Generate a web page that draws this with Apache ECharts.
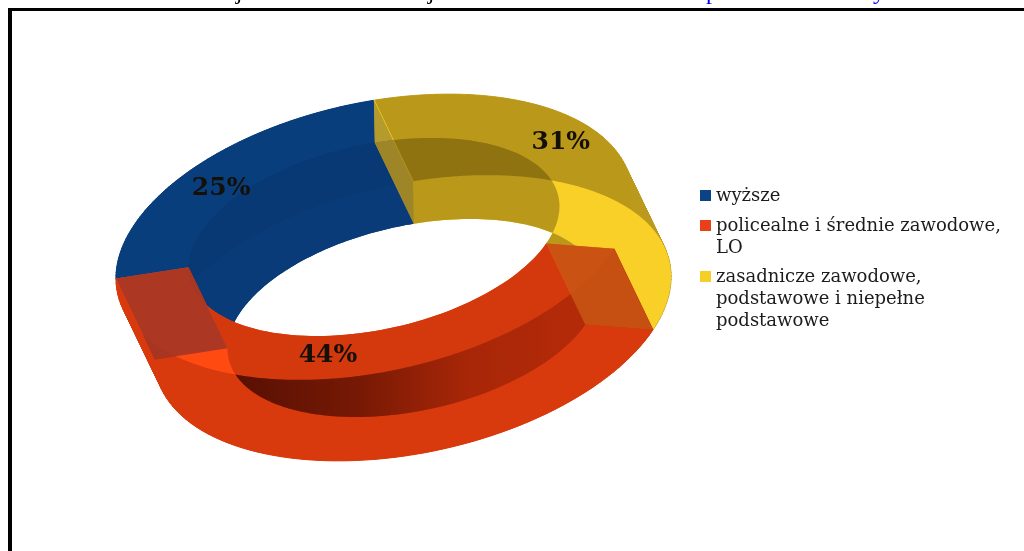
<!DOCTYPE html>
<html><head><meta charset="utf-8">
<style>html,body{margin:0;padding:0;background:#fff}#c{width:1024px;height:551px}</style>
<script src="https://cdn.jsdelivr.net/npm/echarts@6/dist/echarts.min.js"></script>
</head><body><div id="c"></div>
<script>
var categories = ['wyższe', 'policealne i średnie zawodowe,\nLO', 'zasadnicze zawodowe,\npodstawowe i niepełne\npodstawowe'];
var values = [25, 44, 31];
var percentLabels = ['25%', '44%', '31%'];
var baseColors = ['#0a4080', '#ff4a12', '#f8d028'];
var wallColors = ['#0a4080', '#d83a0e', '#bb9a1e'];
var legendColors = ['#0c4384', '#e8401a', '#f5cf25'];

var legendTops = [180, 210, 261];
var labelRadius = [0.81, 0.81, 0.88];
var labelShift = [[-5,6],[-7,3],[-1,3]];
var G = {cx:374, cy:237, A:262.6, B:134.4, a:188.8, b:92.5, phi:12.4*Math.PI/180, dx:39, dy:81};
var START = -83.6;
var total = values.reduce(function(s,v){return s+v;},0);
var rad = Math.PI/180;

function P(ra, rb, t, off){
  var c=Math.cos(G.phi), s=Math.sin(G.phi), x=ra*Math.cos(t), y=rb*Math.sin(t);
  return [G.cx+off*G.dx+x*c+y*s, G.cy+off*G.dy-x*s+y*c];
}
function arc(ra, rb, t0, t1, off){
  var n=72, out=[];
  for(var i=0;i<=n;i++){ out.push(P(ra,rb,t0+(t1-t0)*i/n,off)); }
  return out;
}
function strip(a1, a2){ return a1.concat(a2.slice().reverse()); }
function inside(p, ra, rb, off){
  var c=Math.cos(G.phi), s=Math.sin(G.phi);
  var x=p[0]-G.cx-off*G.dx, y=p[1]-G.cy-off*G.dy;
  var u=x*c-y*s, v=x*s+y*c;
  return u*u/(ra*ra)+v*v/(rb*rb)<1;
}
function poly(points, fill){
  return {type:'polygon', shape:{points:points}, style:{fill:fill, stroke:null}, silent:true};
}
function sweep(topO, botO, col){
  var out=[];
  for(var k=0;k<topO.length-1;k++){
    out.push({type:'polygon',silent:true,shape:{points:[topO[k],topO[k+1],botO[k+1],botO[k]]},style:{fill:col,stroke:col,lineWidth:1}});
  }
  return out;
}
var overlay = [
  {wall:'rgba(0,10,40,0.03)', inner:'rgba(0,10,40,0.09)', cap:'rgba(166,54,36,0.93)'},
  {wall:'rgba(100,10,0,0.25)', inner:'rgba(100,10,0,0.28)', cap:'rgba(198,84,20,0.92)'},
  {wall:'rgba(60,40,0,0.33)', inner:'rgba(60,40,0,0.33)', cap:'rgba(140,122,50,0.62)'}
];

function sliceAngles(i){
  var before=0; for(var k=0;k<i;k++){before+=values[k];}
  return [(START-before/total*360)*rad, (START-(before+values[i])/total*360)*rad];
}
function renderSlice(i){
  return function(params, api){
    var ang=sliceAngles(i), t0=ang[0], t1=ang[1], o=overlay[i];
    var topO=arc(G.A,G.B,t0,t1,0), topI=arc(G.a,G.b,t0,t1,0), botO=arc(G.A,G.B,t0,t1,1), botI=arc(G.a,G.b,t0,t1,1);
    var col=baseColors[i];
    var kids=sweep(topO,botO,wallColors[i]).concat([
      poly(strip(topO,topI),col), poly(strip(botO,botI),col),
      poly(strip(topI,botI),col)
    ]);
    if(i===2){
      var a1=[],a2=[],t;
      for(t=t0;t>=t1;t-=0.005){
        var p=P(G.A,G.B,t,0); if(!inside(p,G.A,G.B,1)){a1.push(p);}
        var q=P(G.A,G.B,t,1); if(inside(q,G.A,G.B,0)){a2.push(q);}
      }
      kids.push(poly(strip(a1,a2),o.wall));
    } else {
      kids.push(poly(strip(topO,botO),o.wall));
    }
    kids.push(poly(strip(topI,botI),o.inner));
    if(i===1){
      var b1=[], b2=[];
      for(var u=t0;u>=t1;u-=0.01){
        var r=P(G.a,G.b,u,1); if(!inside(r,G.A,G.B,0)&&r[1]>237){b1.push(r);}
        var w=P(G.A,G.B,u,0); if(inside(w,G.a,G.b,1)&&w[1]>237){b2.push(w);}
      }
      if(b1.length&&b2.length){
        kids.push({type:'polygon',shape:{points:strip(b1,b2)},silent:true,
          style:{fill:new echarts.graphic.LinearGradient(0,0,1,0,[
            {offset:0,color:'rgba(50,5,0,0.72)'},{offset:0.35,color:'rgba(60,8,0,0.52)'},
            {offset:0.65,color:'rgba(80,10,0,0.16)'},{offset:1,color:'rgba(90,10,0,0.03)'}])}});
      }
    }
    var cap=[P(G.A,G.B,t1,0),P(G.a,G.b,t1,0),P(G.a,G.b,t1,1),P(G.A,G.B,t1,1)];
    var cap0=[P(G.A,G.B,t0,0),P(G.a,G.b,t0,0),P(G.a,G.b,t0,1),P(G.A,G.B,t0,1)];
    if(i===1){ kids.push(poly(cap,o.cap)); kids.push(poly(cap0,overlay[0].cap)); }
    if(i===2){ kids.push(poly(cap,o.cap)); }
    var mid=(t0+t1)/2, lp=P(G.A*labelRadius[i],G.B*labelRadius[i],mid,0);
    kids.push({type:'text',silent:true,z2:100,style:{text:percentLabels[i],x:lp[0]+labelShift[i][0],y:lp[1]+labelShift[i][1],align:'center',verticalAlign:'middle',
      font:'bold 25px "DejaVu Serif"',fill:'#141008'}});
    return {type:'group',children:kids};
  };
}
var order=[0,2,1];
var series=order.map(function(i){
  return {type:'custom',name:categories[i],coordinateSystem:'none',renderItem:renderSlice(i),
    data:[[values[i]]],itemStyle:{color:legendColors[i]},silent:true,animation:false,z:2+order.indexOf(i)};
});
var LH=22;
var legends=categories.map(function(name,i){
  var n=name.split('\n').length, h=n*LH;
  return {data:[{name:name,icon:'path://M0 0L0 0M0 5H11V16H0ZM0 '+h+'L0 '+h}],orient:'vertical',left:695,top:legendTops[i],
    itemWidth:11,itemHeight:h,itemGap:0,selectedMode:false,
    textStyle:{fontFamily:'"DejaVu Serif"',fontSize:18,lineHeight:LH,color:'#1c1c1c'}};
});
function clipped(ch,x,col){
  return {type:'text',silent:true,z:1,style:{text:ch,x:x,y:5,align:'center',verticalAlign:'bottom',font:'24px "Liberation Serif"',fill:col}};
}
var option={animation:false,backgroundColor:'#ffffff',legend:legends,series:series,
  graphic:[
    clipped('j',239,'#000'),clipped('j',431,'#000'),clipped('p',712,'#0000ee'),clipped('y',879,'#0000ee'),
    {type:'rect',shape:{x:8,y:8,width:1016,height:3},style:{fill:'#000'},z:1,silent:true},
    {type:'rect',shape:{x:8,y:8,width:4,height:543},style:{fill:'#000'},z:1,silent:true}
  ]};
echarts.init(document.getElementById('c')).setOption(option);
</script></body></html>
